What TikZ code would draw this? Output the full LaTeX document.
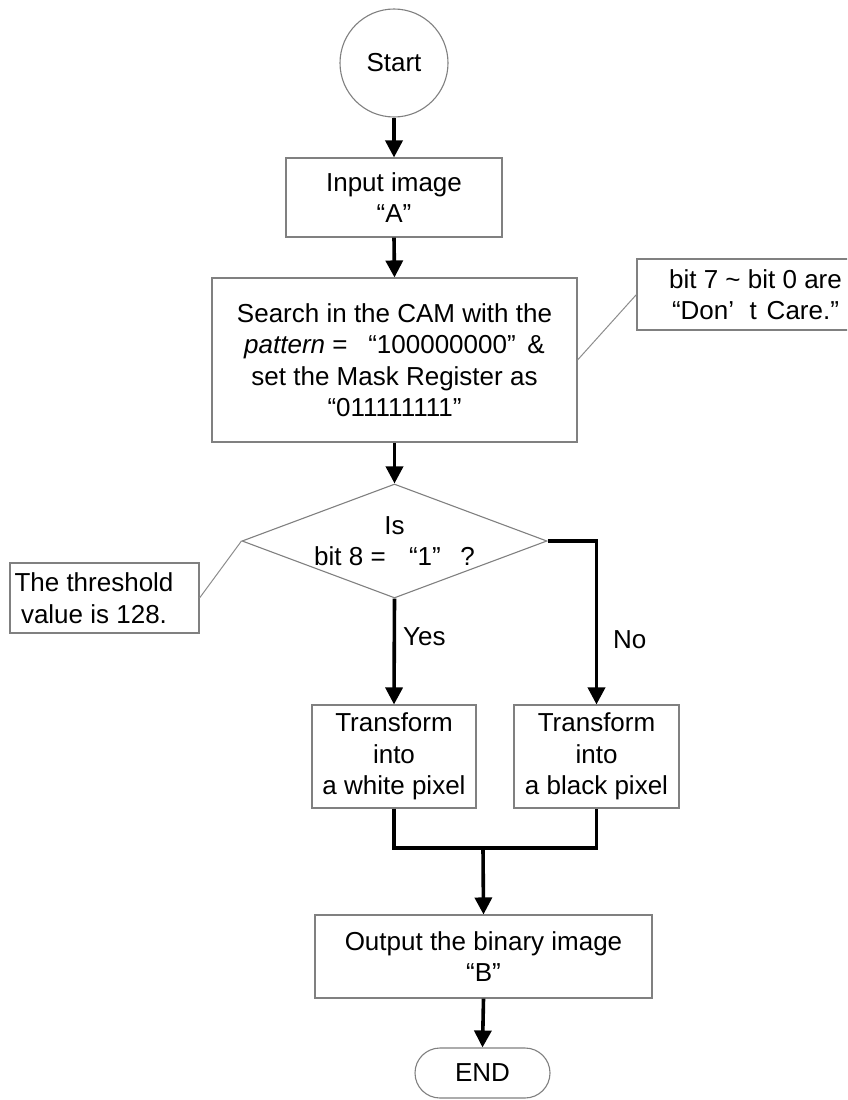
\documentclass[tikz,border=0pt]{standalone}
\usepackage{fontspec}
\setmainfont{Liberation Sans}
\usetikzlibrary{arrows.meta,shapes.geometric,shapes.misc}
\begin{document}
\begin{tikzpicture}[x=1pt,y=-1pt,
  font=\fontsize{26}{31.5}\selectfont,
  box/.style={draw=black!50, line width=1.1pt, fill=white, align=center, inner sep=0pt},
  flow/.style={line width=3.6pt, -{Triangle[length=17pt,width=17pt]}},
  mergeline/.style={line width=3.6pt, line join=miter},
  callout/.style={draw=black!45, line width=1pt},
  lbl/.style={anchor=west, inner sep=0pt}]
\useasboundingbox (0,0) rectangle (847,1100);
\clip (0,0) rectangle (847,1100);

% process steps
\node[box, circle, minimum size=108pt] (start) at (394,63) {Start};
\node[box, minimum width=216pt, minimum height=79pt] (input) at (394,197.5)
  {Input image\\“A”};
\node[box, minimum width=365pt, minimum height=164pt] (search) at (394.5,360)
  {Search in the CAM with the\\\textit{pattern} =\hspace{0.8em}“100000000”\hspace{0.45em}\&\\set the Mask Register as\\“011111111”};
\node[box, diamond, minimum width=305pt, minimum height=114pt] (dia) at (394.5,541) {};
\node[inner sep=0pt, align=center] (q) at (394.5,541)
  {Is\\bit 8 =\hspace{0.9em}“1”\hspace{0.75em}?};
\node[box, minimum width=164pt, minimum height=103pt] (white) at (394,756.5)
  {Transform\\into\\a white pixel};
\node[box, minimum width=165pt, minimum height=103pt] (black) at (596.5,756.5)
  {Transform\\into\\a black pixel};
\node[box, minimum width=337pt, minimum height=83pt] (out) at (483.5,956.5)
  {Output the binary image\\“B”};
\node[box, rounded rectangle, minimum width=135pt, minimum height=50pt] (end) at (482.5,1073) {END};

% annotations
\node[box, minimum width=237pt, minimum height=71pt] (dc) at (755.5,294.5)
  {bit 7 \textasciitilde\ bit 0 are\\“Don’\hspace{0.6em}t\hspace{0.1em} Care.”};
\node[box, minimum width=189pt, minimum height=70pt] (thr) at (104.5,598) {};
\node[inner sep=0pt, align=center] (thrtext) at (94,598)
  {The threshold\\value is 128.};
\draw[callout] (dc.west) -- (search.east);
\draw[callout] (thr.east) -- (dia.west);

% connectors
\draw[flow] (start.south) -- (input.north);
\draw[flow] (input.south) -- (search.north);
\draw[flow] (search.south) -- (dia.north);
\draw[flow] (dia.south) -- (white.north);
\draw[flow, line join=miter] (dia.east) -| (black.north);
\coordinate (j) at (483,848);
\draw[mergeline] (white.south) |- (j) -| (black.south);
\draw[flow] (j) -- (out.north);
\draw[flow] (out.south) -- (end.north);

% branch labels
\node[lbl] (yes) at (403,637) {Yes};
\node[lbl] (no) at (613,640) {No};
\end{tikzpicture}
\end{document}
